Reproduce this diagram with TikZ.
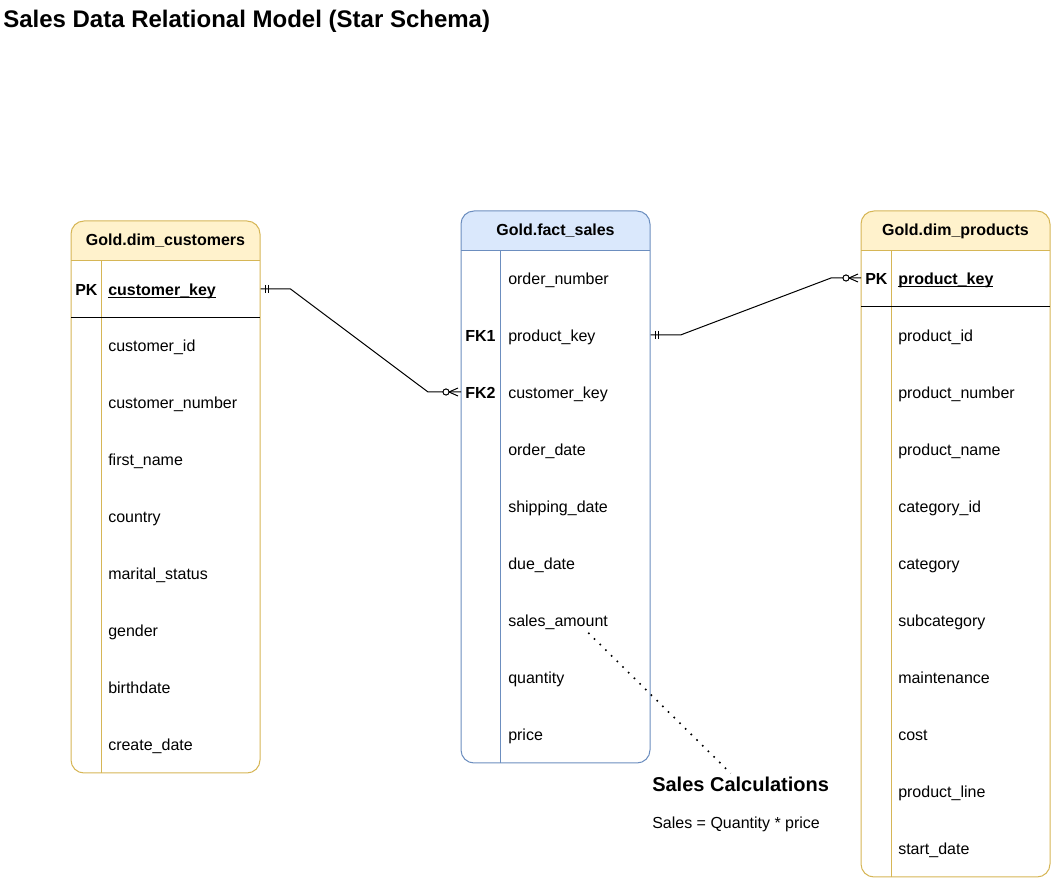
\documentclass[tikz,border=0pt]{standalone}
\usepackage{fontspec}
\setmainfont{Liberation Sans}
\usetikzlibrary{calc}
\definecolor{yfill}{HTML}{FFF2CC}
\definecolor{ystroke}{HTML}{D6B656}
\definecolor{bfill}{HTML}{DAE8FC}
\definecolor{bstroke}{HTML}{6C8EBF}
\newcommand{\ulkey}[1]{\setbox0\hbox{#1}\rlap{\rule[-2.1pt]{\wd0}{0.6pt}}\box0}
\newcommand{\fieldfont}{\fontsize{12}{14}\selectfont}
\begin{document}
\begin{tikzpicture}[x=0.75pt,y=-0.75pt,
  tbl/.style={line width=0.75pt},
  er/.style={line width=0.75pt, black},
  fieldc/.style={anchor=west, inner sep=0pt, text height=10.5pt, text depth=0.75pt, align=left, text width=114pt, font=\fieldfont},
  fieldf/.style={fieldc, text width=106.5pt},
  keylbl/.style={anchor=west, inner xsep=3pt, inner ysep=0pt, text height=10.5pt, text depth=0.75pt, font=\fieldfont\bfseries},
  hdr/.style={anchor=base, inner sep=0pt, font=\fieldfont\bfseries},
  note/.style={anchor=base west, inner sep=0pt},
  notelink/.style={line width=1.2pt, dash pattern=on 1.2pt off 4.8pt, black},
]
\useasboundingbox (0,0) rectangle (1051,887);

\node[anchor=base west, inner sep=0pt, font=\fontsize{18}{22}\selectfont\bfseries] (title) at (3,28) {Sales Data Relational Model (Star Schema)};

% ---------- Gold.dim_customers ----------
\begin{scope}
\clip[rounded corners=9.75pt] (71,221) rectangle (260,773);
\fill[yfill] (71,221) rectangle (260,261);
\end{scope}
\draw[ystroke, tbl, rounded corners=9.75pt] (71,221) rectangle (260,773);
\draw[ystroke, tbl] (71,261) -- (260,261) (101,261) -- (101,773);
\draw[tbl] (71,318) -- (260,318);
\node[hdr] (custH) at (165.5,245.5) {Gold.dim\_customers};
\node[keylbl] (cpk) at (71,289) {PK};
\node[fieldc] (ckey) at (108,289) {\bfseries\ulkey{customer\_key}};
\foreach \n/\y/\t in {c1/345/customer\_id, c2/402/customer\_number, c3/459/first\_name, c4/516/country, c5/573/marital\_status, c6/630/gender, c7/687/birthdate, c8/744/create\_date}
  \node[fieldc] (\n) at (108,\y) {\t};

% ---------- Gold.fact_sales ----------
\begin{scope}
\clip[rounded corners=9.75pt] (461,211) rectangle (650,763);
\fill[bfill] (461,211) rectangle (650,251);
\end{scope}
\draw[bstroke, tbl, rounded corners=9.75pt] (461,211) rectangle (650,763);
\draw[bstroke, tbl] (461,251) -- (650,251) (500,251) -- (500,763);
\node[hdr] (factH) at (555.5,235.5) {Gold.fact\_sales};
\node[keylbl] (fk1) at (461,335) {FK1};
\node[keylbl] (fk2) at (461,392) {FK2};
\foreach \n/\y/\t in {f1/278/order\_number, f2/335/product\_key, f3/392/customer\_key, f4/449/order\_date, f5/506/shipping\_date, f6/563/due\_date, f7/620/sales\_amount, f8/677/quantity, f9/734/price}
  \node[fieldf] (\n) at (508,\y) {\t};

% ---------- Gold.dim_products ----------
\begin{scope}
\clip[rounded corners=9.75pt] (861,211) rectangle (1050,877);
\fill[yfill] (861,211) rectangle (1050,251);
\end{scope}
\draw[ystroke, tbl, rounded corners=9.75pt] (861,211) rectangle (1050,877);
\draw[ystroke, tbl] (861,251) -- (1050,251) (891,251) -- (891,877);
\draw[tbl] (861,307) -- (1050,307);
\node[hdr] (prodH) at (955.5,235.5) {Gold.dim\_products};
\node[keylbl] (ppk) at (861,278) {PK};
\node[fieldc] (pkey) at (898,278) {\bfseries\ulkey{product\_key}};
\foreach \n/\y/\t in {p1/335/product\_id, p2/392/product\_number, p3/449/product\_name, p4/506/category\_id, p5/563/category, p6/620/subcategory, p7/677/maintenance, p8/734/cost, p9/791/product\_line, p10/848/start\_date}
  \node[fieldc] (\n) at (898,\y) {\t};

% ---------- relationships ----------
\draw[er] (ckey.east) -- ++(30,0) -- ($(fk2.west)+(-33,0)$) -- (fk2.west);
\draw[er] ($(ckey.east)+(4.5,-4)$) -- ++(0,8) ($(ckey.east)+(8,-4)$) -- ++(0,8);
\draw[er] ($(fk2.west)+(-12,0)$) -- ($(fk2.west)+(-3,-4)$) ($(fk2.west)+(-12,0)$) -- ($(fk2.west)+(-3,4)$);
\draw[er, fill=white] ($(fk2.west)+(-15,0)$) circle[radius=2.3pt];

\draw[er] (f2.east) -- ++(30,0) -- ($(ppk.west)+(-30,0)$) -- (ppk.west);
\draw[er] ($(f2.east)+(4.5,-4)$) -- ++(0,8) ($(f2.east)+(8,-4)$) -- ++(0,8);
\draw[er] ($(ppk.west)+(-12,0)$) -- ($(ppk.west)+(-3,-4)$) ($(ppk.west)+(-12,0)$) -- ($(ppk.west)+(-3,4)$);
\draw[er, fill=white] ($(ppk.west)+(-15,0)$) circle[radius=2.3pt];

% ---------- note ----------
\node[note, font=\fontsize{15}{18}\selectfont\bfseries] (calcT) at (652,792) {Sales Calculations};
\node[note, font=\fieldfont] (calcF) at (652,829) {Sales = Quantity * price};
\coordinate (dotS) at ($(f7.south)+(9,5)$);
\coordinate (dotE) at ($(calcT.north)+(-10,-4)$);
\draw[notelink] (dotS) -- (dotE);
\end{tikzpicture}
\end{document}
